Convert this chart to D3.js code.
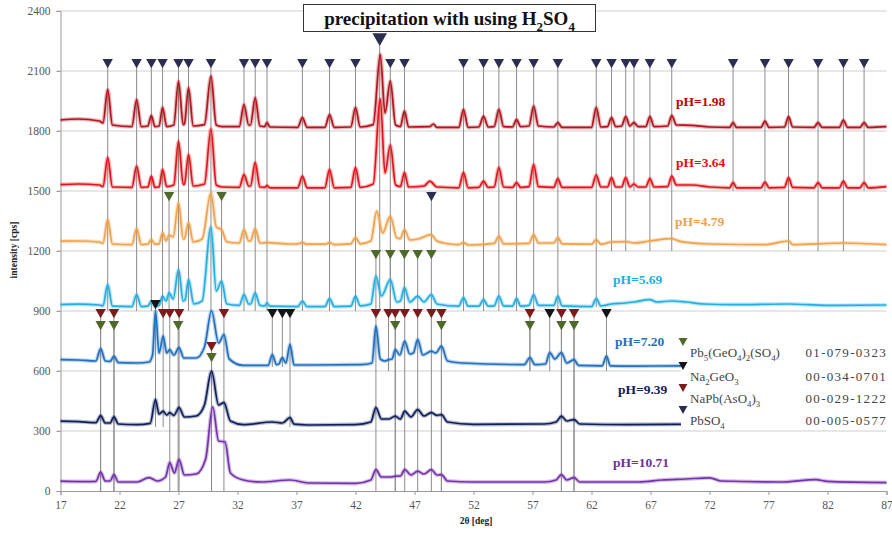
<!DOCTYPE html>
<html><head><meta charset="utf-8">
<script src="https://cdn.jsdelivr.net/npm/d3@7"></script>
<style>body{margin:0;background:#fff}svg{display:block}</style>
</head><body><svg id="c" width="892" height="535"></svg>
<script>
// ---------- DATA ----------
const xTicks = [17,22,27,32,37,42,47,52,57,62,67,72,77,82,87];
const yTicks = [0,300,600,900,1200,1500,1800,2100,2400];

const ph198 = [[17,1855],[18.5,1860],[20.3,1850],[20.6,1840],[21.0,2007],[21.4,1830],[23.05,1822],[23.45,1957],[23.85,1822],[24.4,1825],[24.7,1877],[25.0,1822],[25.35,1825],[25.65,1917],[26.0,1822],[26.6,1830],[27.0,2049],[27.4,1832],[27.5,1835],[27.85,2016],[28.25,1825],[29.2,1832],[29.75,2074],[30.2,1830],[30.7,1822],[32.15,1822],[32.55,1932],[32.95,1830],[33.1,1830],[33.5,1966],[33.9,1825],[34.3,1822],[34.5,1842],[34.75,1820],[37.1,1818],[37.5,1867],[37.9,1818],[39.4,1818],[39.8,1882],[40.2,1818],[41.6,1820],[42.0,1917],[42.4,1820],[43.5,1832],[44.1,2182],[44.5,1890],[44.95,2049],[45.4,1830],[45.8,1822],[46.15,1899],[46.5,1820],[48.3,1822],[48.6,1835],[48.9,1818],[50.75,1818],[51.15,1907],[51.55,1818],[52.45,1820],[52.85,1874],[53.25,1820],[53.75,1822],[54.15,1907],[54.55,1822],[55.3,1820],[55.65,1857],[56.0,1822],[56.7,1825],[57.1,1924],[57.5,1825],[58.8,1820],[59.15,1842],[59.5,1818],[62.0,1818],[62.4,1917],[62.8,1820],[63.35,1822],[63.7,1867],[64.05,1822],[64.55,1825],[64.9,1872],[65.25,1825],[65.6,1842],[65.95,1822],[66.6,1822],[66.95,1872],[67.3,1822],[68.45,1825],[68.8,1877],[69.2,1830],[70.5,1828],[72,1820],[73.7,1818],[74.0,1842],[74.3,1818],[76.35,1818],[76.7,1849],[77.05,1818],[78.35,1820],[78.7,1872],[79.05,1820],[80.85,1818],[81.2,1842],[81.55,1818],[83.0,1818],[83.35,1854],[83.7,1818],[84.75,1818],[85.1,1842],[85.45,1818],[87,1822]];

const ph364 = [[17,1532],[18.5,1535],[20.3,1530],[20.6,1522],[21.0,1667],[21.4,1520],[23.05,1518],[23.45,1624],[23.85,1518],[24.4,1520],[24.7,1574],[25.0,1518],[25.35,1520],[25.65,1607],[26.0,1522],[26.6,1530],[27.0,1749],[27.4,1533],[27.5,1535],[27.85,1682],[28.25,1525],[29.2,1535],[29.75,1810],[30.2,1530],[30.7,1520],[32.15,1518],[32.55,1582],[32.95,1525],[33.1,1525],[33.5,1642],[33.9,1520],[34.3,1518],[34.5,1527],[34.75,1516],[37.1,1516],[37.5,1574],[37.9,1516],[39.4,1516],[39.8,1607],[40.2,1516],[41.6,1518],[42.0,1617],[42.4,1518],[43.5,1535],[44.1,1960],[44.5,1590],[44.95,1730],[45.4,1530],[45.8,1522],[46.15,1592],[46.5,1520],[47.8,1525],[48.3,1549],[48.9,1520],[50.75,1516],[51.15,1592],[51.55,1516],[52.45,1518],[52.85,1549],[53.25,1518],[53.75,1520],[54.15,1617],[54.55,1520],[55.3,1518],[55.65,1542],[56.0,1518],[56.7,1522],[57.1,1632],[57.5,1522],[58.8,1518],[59.15,1562],[59.5,1518],[62.0,1518],[62.4,1580],[62.8,1520],[63.35,1520],[63.7,1567],[64.05,1520],[64.55,1520],[64.9,1567],[65.25,1520],[65.6,1535],[65.95,1520],[66.6,1520],[66.95,1562],[67.3,1520],[68.45,1522],[68.8,1574],[69.2,1530],[70.5,1530],[72,1520],[73.7,1516],[74.0,1542],[74.3,1516],[76.35,1516],[76.7,1544],[77.05,1516],[78.35,1518],[78.7,1567],[79.05,1518],[80.85,1516],[81.2,1542],[81.55,1516],[83.0,1516],[83.35,1549],[83.7,1516],[84.75,1516],[85.1,1542],[85.45,1516],[87,1522]];

const ph479 = [[17,1249],[18.5,1250],[20.3,1245],[20.6,1238],[21.0,1357],[21.4,1235],[23.05,1232],[23.45,1312],[23.85,1232],[24.4,1234],[24.7,1257],[25.0,1234],[25.35,1236],[25.65,1292],[25.95,1250],[26.2,1280],[26.55,1270],[27.0,1442],[27.4,1260],[27.5,1262],[27.85,1342],[28.25,1245],[29.0,1260],[29.75,1490],[30.2,1320],[30.65,1307],[31.1,1245],[32.15,1240],[32.55,1307],[32.95,1250],[33.1,1250],[33.5,1312],[33.9,1240],[34.5,1242],[36.5,1235],[37.1,1236],[37.5,1242],[37.9,1234],[39.4,1234],[39.8,1242],[40.2,1232],[41.6,1236],[42.0,1267],[42.4,1236],[43.3,1250],[43.8,1399],[44.3,1290],[44.95,1374],[45.5,1265],[45.8,1262],[46.15,1307],[46.6,1255],[47.3,1260],[48.4,1282],[48.9,1250],[50.0,1235],[50.75,1232],[51.15,1242],[51.55,1230],[53.75,1238],[54.15,1274],[54.55,1236],[56.7,1238],[57.1,1282],[57.5,1240],[58.8,1240],[59.15,1267],[59.5,1236],[62.0,1234],[62.4,1257],[62.8,1234],[63.7,1245],[64.9,1247],[65.6,1240],[66.95,1250],[68.8,1262],[69.5,1248],[72,1235],[76.7,1232],[78.7,1250],[79.05,1232],[83.35,1240],[87,1232]];

const ph569 = [[17,932],[18.5,934],[20.3,930],[20.6,926],[21.0,1032],[21.4,924],[23.05,922],[23.45,982],[23.85,922],[24.4,924],[24.7,949],[25.0,924],[25.35,928],[25.65,974],[25.95,950],[26.2,991],[26.55,960],[27.0,1107],[27.4,950],[27.55,955],[27.85,1057],[28.3,935],[29.0,950],[29.75,1320],[30.2,1000],[30.65,1049],[31.1,935],[32.15,928],[32.55,982],[32.95,935],[33.1,935],[33.5,991],[33.9,928],[34.3,925],[34.5,940],[34.75,924],[37.1,922],[37.5,949],[37.9,922],[39.4,922],[39.8,962],[40.2,922],[41.6,924],[42.0,974],[42.4,926],[43.3,935],[43.73,1074],[44.2,975],[44.95,1057],[45.5,945],[45.8,950],[46.15,1017],[46.6,945],[47.27,974],[47.8,945],[48.43,982],[48.9,935],[50.75,924],[51.15,967],[51.55,924],[52.45,924],[52.85,957],[53.25,924],[53.75,926],[54.15,974],[54.55,926],[55.3,924],[55.65,962],[56.0,924],[56.7,928],[57.1,982],[57.5,928],[58.8,928],[59.15,974],[59.5,926],[62.0,922],[62.4,962],[62.8,925],[63.7,935],[64.9,940],[65.6,945],[66.95,957],[67.5,945],[68.8,950],[70,945],[71.5,935],[74.0,932],[78.7,935],[82,928],[87,930]];

const ph720 = [[17,657],[18.5,655],[20.0,650],[20.4,712],[20.8,650],[21.2,648],[21.53,674],[21.9,642],[23.5,640],[24.5,645],[24.8,680],[25.05,899],[25.35,690],[25.7,774],[26.0,690],[26.26,707],[26.6,680],[27.05,717],[27.45,665],[28.5,665],[29.2,720],[29.8,900],[30.4,740],[30.85,782],[31.3,660],[32.5,628],[34.6,628],[34.95,682],[35.3,632],[35.5,635],[35.8,667],[36.1,640],[36.45,732],[36.8,630],[38.5,630],[42.5,632],[43.4,640],[43.73,824],[44.1,660],[44.5,650],[44.8,657],[45.1,660],[45.37,707],[45.75,680],[46.17,749],[46.6,685],[46.9,690],[47.27,757],[47.7,680],[48.43,699],[48.8,690],[49.28,724],[49.8,650],[51,640],[56.3,632],[56.78,667],[57.2,632],[58.1,635],[58.46,692],[58.9,660],[59.45,692],[59.9,640],[60.52,657],[60.9,628],[62.9,626],[63.27,674],[63.6,626],[65,624],[70,626],[87,626]];

const ph939 = [[17,349],[18.5,347],[20.0,342],[20.4,377],[20.8,340],[21.2,340],[21.53,371],[21.9,335],[23.5,332],[24.6,338],[25.05,457],[25.35,385],[25.7,399],[26.0,380],[26.26,392],[26.6,378],[27.05,417],[27.5,370],[28.5,375],[29.2,430],[29.8,599],[30.4,430],[30.85,442],[31.4,350],[32.5,332],[34.95,345],[35.8,340],[36.45,367],[36.8,334],[38,330],[42,332],[43.3,345],[43.73,417],[44.2,360],[44.8,360],[45.37,374],[45.8,360],[46.17,399],[46.7,370],[47.27,407],[47.8,375],[48.43,392],[48.9,378],[49.28,382],[49.8,345],[52,333],[58,335],[59.0,345],[59.45,374],[59.9,350],[60.52,357],[61,335],[65,332],[72,335],[87,332]];

const ph1071 = [[17,49],[19,47],[20.0,48],[20.4,94],[20.8,50],[21.2,50],[21.53,82],[21.9,45],[23.5,45],[24.5,67],[25.2,50],[25.9,70],[26.26,142],[26.65,90],[27.05,157],[27.5,80],[28.5,85],[29.3,160],[29.9,420],[30.4,250],[30.95,245],[31.4,90],[32.5,55],[34,45],[36.45,55],[38,40],[42,38],[43.3,55],[43.73,107],[44.2,70],[45.0,70],[45.37,74],[45.8,75],[46.17,107],[46.7,80],[47.27,99],[47.8,85],[48.43,107],[48.9,80],[49.28,82],[49.8,50],[52,45],[58,45],[59.0,55],[59.45,82],[59.9,55],[60.52,67],[61,45],[66,45],[68,55],[70,60],[72,66],[73,50],[78,45],[81,57],[82,48],[87,42]];

const seriesLabels = ["pH=1.98","pH=3.64","pH=4.79","pH=5.69","pH=7.20","pH=9.39","pH=10.71"];

// phase reference markers: [2theta, marker level (cps), drop line end (cps)]
const markPbSO4 = [[21.0,2137,900],[23.45,2137,900],[24.7,2137,900],[25.65,2137,900],[27.0,2137,900],[27.85,2137,900],[29.75,2137,900],[32.55,2137,900],[33.5,2137,900],[34.5,2137,900],[37.5,2137,900],[39.8,2137,900],[42.0,2137,900],[44.95,2137,900],[46.15,2137,900],[51.15,2137,900],[52.85,2137,900],[54.15,2137,900],[55.65,2137,900],[57.1,2137,900],[59.15,2137,900],[62.4,2137,920],[63.7,2137,1200],[64.9,2137,1200],[65.6,2137,1500],[66.95,2137,1200],[68.8,2137,1200],[74.0,2137,1500],[76.7,2137,1500],[78.7,2137,1200],[81.2,2137,1200],[83.35,2137,1200],[85.1,2137,1500],[48.43,1472,1200]];
const markPbSO4Main = [[44.05,2257,900]];
const markPb5 = [[26.2,1472,900],[30.65,1472,900],[43.73,1182,900],[44.95,1182,900],[46.14,1182,900],[47.27,1182,900],[48.43,1182,900],[20.4,827,0],[21.53,827,0],[26.97,827,0],[29.8,667,0],[45.37,827,0],[49.28,827,0],[56.78,827,600],[59.45,827,0],[60.52,827,0]];
const markNa2GeO3 = [[25.05,932,320],[34.95,887,620],[35.8,887,620],[36.45,887,320],[58.46,887,600],[63.27,887,600]];
const markNaPb = [[20.4,887,0],[21.53,887,0],[25.7,887,320],[26.26,887,0],[27.05,887,0],[29.8,722,0],[30.85,887,0],[43.73,887,0],[44.8,887,600],[45.37,887,0],[46.17,887,0],[47.27,887,0],[48.43,887,0],[49.28,887,0],[56.78,887,600],[59.45,887,0],[60.52,887,0]];

const legendNames = ["Pb_5(GeO_4)_2(SO_4)","Na_2GeO_3","NaPb(AsO_4)_3","PbSO_4"];
const legendCodes = ["01-079-0323","00-034-0701","00-029-1222","00-005-0577"];

// ---------- DRAW ----------
const traces = [ph198, ph364, ph479, ph569, ph720, ph939, ph1071];
const traceColors = ["#b3141d","#e5141b","#f2a24a","#22afe4","#2070bf","#10205c","#7632ad"];
const labelColors = ["#c00000","#e01010","#eea24e","#1ab0e4","#1f6fbf","#10205a","#7030a0"];
const labelPos = [[676,106],[676,167],[675,226],[613,284],[615,346],[618,394],[613,467]];
const phaseColors = {PbSO4:"#2b2e52", Pb5:"#4e6a2a", Na2:"#141414", NaPb:"#7a1c1c"};

const x = d3.scaleLinear().domain([17,87]).range([60.5,886.5]);
const y = d3.scaleLinear().domain([0,2400]).range([491,11]);
const svg = d3.select("#c");
const serif = "'Liberation Serif','Times New Roman',serif";

// gridlines
svg.append("g").selectAll("line").data(yTicks.filter(d=>d>0)).join("line")
  .attr("x1",57).attr("x2",886.5).attr("y1",d=>y(d)).attr("y2",d=>y(d))
  .attr("stroke","#cfcfcf").attr("stroke-width",1);

// axes
const ya = svg.append("g").attr("transform","translate(60.5,0)")
  .call(d3.axisLeft(y).tickValues(yTicks).tickFormat(d3.format("d")).tickSize(4).tickPadding(6));
const xa = svg.append("g").attr("transform","translate(0,491)")
  .call(d3.axisBottom(x).tickValues(xTicks).tickFormat(d3.format("d")).tickSize(4).tickPadding(6));
[ya,xa].forEach(a=>{
  a.select(".domain").attr("stroke","#9a9a9a");
  a.selectAll(".tick line").attr("stroke","#9a9a9a");
  a.selectAll("text").attr("font-family",serif).attr("font-size",11.5).attr("fill","#555");
});

// drop lines
const allMarks = [
  ...markPbSO4.map(d=>({d,c:phaseColors.PbSO4,s:1})),
  ...markPbSO4Main.map(d=>({d,c:phaseColors.PbSO4,s:1.4})),
  ...markPb5.map(d=>({d,c:phaseColors.Pb5,s:1})),
  ...markNa2GeO3.map(d=>({d,c:phaseColors.Na2,s:1})),
  ...markNaPb.map(d=>({d,c:phaseColors.NaPb,s:1}))
];
svg.append("g").selectAll("line").data(allMarks).join("line")
  .attr("x1",m=>x(m.d[0])).attr("x2",m=>x(m.d[0]))
  .attr("y1",m=>y(m.d[1])).attr("y2",m=>y(m.d[2]))
  .attr("stroke","#8c8c8c").attr("stroke-width",1);

// traces
const line = d3.line().x(d=>x(d[0])).y(d=>y(d[1])).curve(d3.curveMonotoneX);
const tg = svg.append("g");
traces.forEach((t,i)=>{
  tg.append("path").attr("d",line(t)).attr("fill","none")
    .attr("stroke",traceColors[i]).attr("stroke-width",4).attr("stroke-opacity",0.3)
    .attr("stroke-linejoin","round");
  tg.append("path").attr("d",line(t)).attr("fill","none")
    .attr("stroke",traceColors[i]).attr("stroke-width",1.7).attr("stroke-linejoin","round");
});

// markers
function tri(s){ const w=5.2*s,h=4.6*s; return `M${-w},${-h}L${w},${-h}L0,${h}Z`; }
svg.append("g").selectAll("path").data(allMarks).join("path")
  .attr("d",m=>tri(m.s)).attr("fill",m=>m.c)
  .attr("transform",m=>`translate(${x(m.d[0])},${y(m.d[1])})`);

// pH labels
svg.append("g").selectAll("text").data(seriesLabels).join("text")
  .attr("x",(d,i)=>labelPos[i][0]).attr("y",(d,i)=>labelPos[i][1])
  .attr("font-family",serif).attr("font-weight","bold").attr("font-size",13.5)
  .attr("fill",(d,i)=>labelColors[i]).text(d=>d);

// rich text helper (subscripts)
function rich(sel, str, fs){
  const parts = str.split(/_(\d+)/);
  let shift = 0;
  parts.forEach((p,i)=>{
    if(p==="") return;
    const sub = i%2===1, target = sub ? fs*0.3 : 0;
    sel.append("tspan").attr("dy",target-shift).attr("font-size",sub?fs*0.68:fs).text(p);
    shift = target;
  });
}

// legend
svg.append("rect").attr("x",681).attr("y",333).attr("width",207).attr("height",96).attr("fill","#fff");
const legColors = [phaseColors.Pb5, phaseColors.Na2, phaseColors.NaPb, phaseColors.PbSO4];
const legY = [357,381,403,425];
const lg = svg.append("g");
legendNames.forEach((n,i)=>{
  lg.append("path").attr("d",tri(0.85)).attr("fill",legColors[i])
    .attr("transform",`translate(683,${legY[i]-15})`);
  const t = lg.append("text").attr("x",690).attr("y",legY[i])
    .attr("font-family",serif).attr("fill","#444");
  rich(t, n, 13);
  lg.append("text").attr("x",887).attr("y",legY[i]).attr("text-anchor","end")
    .attr("font-family",serif).attr("font-size",13).attr("letter-spacing",1.3)
    .attr("fill","#444").text(legendCodes[i]);
});

// title
svg.append("rect").attr("x",303.5).attr("y",4.5).attr("width",292).attr("height",27)
  .attr("fill","#fff").attr("stroke","#333").attr("stroke-width",1);
const tt = svg.append("text").attr("x",449.5).attr("y",25).attr("text-anchor","middle")
  .attr("font-family",serif).attr("font-weight","bold").attr("fill","#111");
rich(tt, "precipitation with using H_2SO_4", 19);

// axis titles
svg.append("text").attr("transform","translate(17,250) rotate(-90)").attr("text-anchor","middle")
  .attr("font-family",serif).attr("font-weight","bold").attr("font-size",9.5).attr("fill","#222")
  .text("intensity [cps]");
svg.append("text").attr("x",476).attr("y",524).attr("text-anchor","middle")
  .attr("font-family",serif).attr("font-weight","bold").attr("font-size",9.5).attr("fill","#222")
  .text("2θ [deg]");
</script></body></html>
